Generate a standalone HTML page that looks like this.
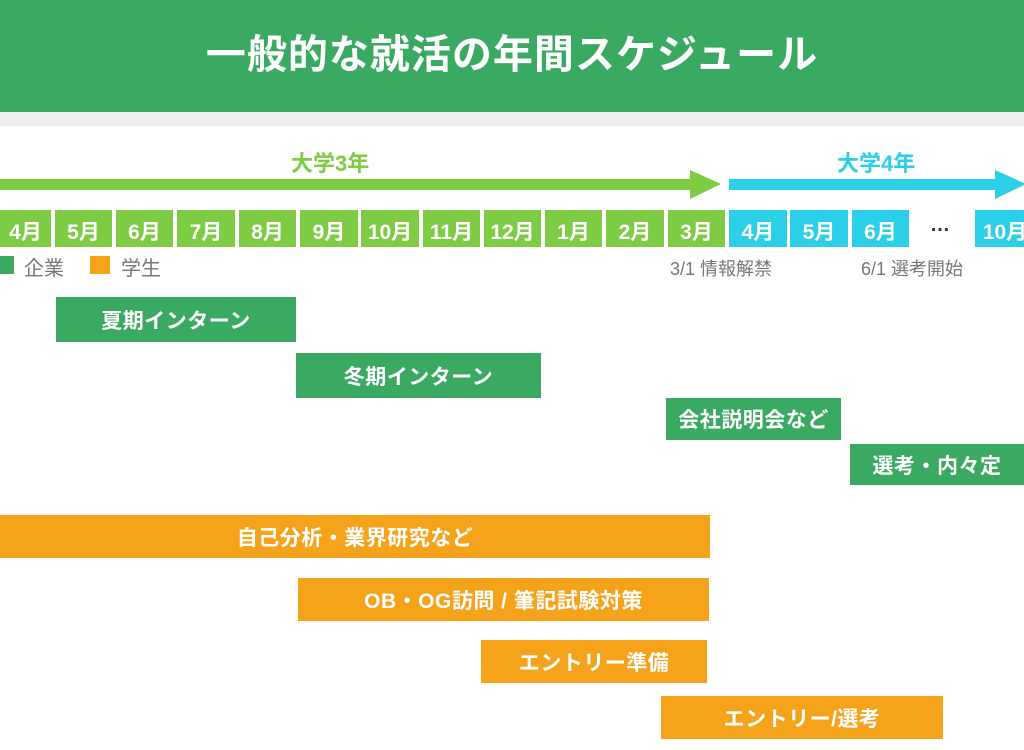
<!DOCTYPE html>
<html><head><meta charset="utf-8"><style>
body{margin:0;width:1024px;height:750px;overflow:hidden;background:#fff;font-family:"Liberation Sans","Noto Sans CJK JP",sans-serif;position:relative}
div{position:absolute;box-sizing:border-box}
.h{left:0;top:0;width:1024px;height:112px;background:#3aaa62;color:#fff;font-size:40px;font-weight:bold;display:flex;align-items:center;justify-content:center;padding-bottom:10px;letter-spacing:1px}
.g{left:0;top:112px;width:1024px;height:14px;background:#efefef}
.m{top:210px;height:37px;color:#fff;font-size:21px;font-weight:bold;display:flex;align-items:center;justify-content:center;padding-top:4px;white-space:nowrap;overflow:visible}
.l{background:#7dcc44}.c{background:#2bcfe8}
.b{color:#fff;font-size:21px;font-weight:bold;display:flex;align-items:center;justify-content:center;white-space:nowrap;letter-spacing:0.5px}
.gr{background:#3aaa62}.or{background:#f6a31c}
.t{font-size:18px;color:#777;white-space:nowrap}
</style></head><body>
<div class="h">一般的な就活の年間スケジュール</div>
<div class="g"></div>
<div style="left:291px;top:146px;font-size:22px;color:#7dcc44;font-weight:bold">大学3年</div>
<div style="left:837px;top:146px;font-size:22px;color:#2bcfe8;font-weight:bold">大学4年</div>
<svg style="position:absolute;left:0;top:0" width="1024" height="250">
<rect x="0" y="179" width="692" height="11" fill="#7dcc44"/><polygon points="690,170 721,184 690,199" fill="#7dcc44"/>
<rect x="729" y="179" width="270" height="11" fill="#2bcfe8"/><polygon points="995,170 1026,184 995,199" fill="#2bcfe8"/>
</svg>
<div class="m l" style="left:0;width:51px">4月</div>
<div class="m l" style="left:55px;width:57px">5月</div>
<div class="m l" style="left:116px;width:57px">6月</div>
<div class="m l" style="left:177px;width:58px">7月</div>
<div class="m l" style="left:239px;width:57px">8月</div>
<div class="m l" style="left:300px;width:58px">9月</div>
<div class="m l" style="left:361px;width:58px">10月</div>
<div class="m l" style="left:423px;width:57px">11月</div>
<div class="m l" style="left:484px;width:57px">12月</div>
<div class="m l" style="left:545px;width:57px">1月</div>
<div class="m l" style="left:606px;width:58px">2月</div>
<div class="m l" style="left:668px;width:57px">3月</div>
<div class="m c" style="left:729px;width:58px">4月</div>
<div class="m c" style="left:790px;width:58px">5月</div>
<div class="m c" style="left:852px;width:57px">6月</div>
<div style="left:930px;top:214px;font-size:20px;color:#333;font-weight:bold">…</div>
<div class="m c" style="left:975px;width:60px">10月</div>
<div style="left:0;top:256px;width:14px;height:18px;background:#3aaa62"></div>
<div class="t" style="left:24px;top:252px;font-size:20px">企業</div>
<div style="left:90px;top:256px;width:20px;height:18px;background:#f6a31c"></div>
<div class="t" style="left:121px;top:252px;font-size:20px">学生</div>
<div class="t" style="left:670px;top:255px">3/1 情報解禁</div>
<div class="t" style="left:861px;top:255px">6/1 選考開始</div>
<div class="b gr" style="left:56px;top:297px;width:240px;height:45px">夏期インターン</div>
<div class="b gr" style="left:296px;top:353px;width:245px;height:45px">冬期インターン</div>
<div class="b gr" style="left:666px;top:398px;width:175px;height:42px">会社説明会など</div>
<div class="b gr" style="left:850px;top:444px;width:174px;height:41px">選考・内々定</div>
<div class="b or" style="left:0;top:515px;width:710px;height:43px">自己分析・業界研究など</div>
<div class="b or" style="left:298px;top:578px;width:411px;height:43px">OB・OG訪問 / 筆記試験対策</div>
<div class="b or" style="left:481px;top:640px;width:226px;height:43px">エントリー準備</div>
<div class="b or" style="left:661px;top:696px;width:282px;height:43px">エントリー/選考</div>
</body></html>
